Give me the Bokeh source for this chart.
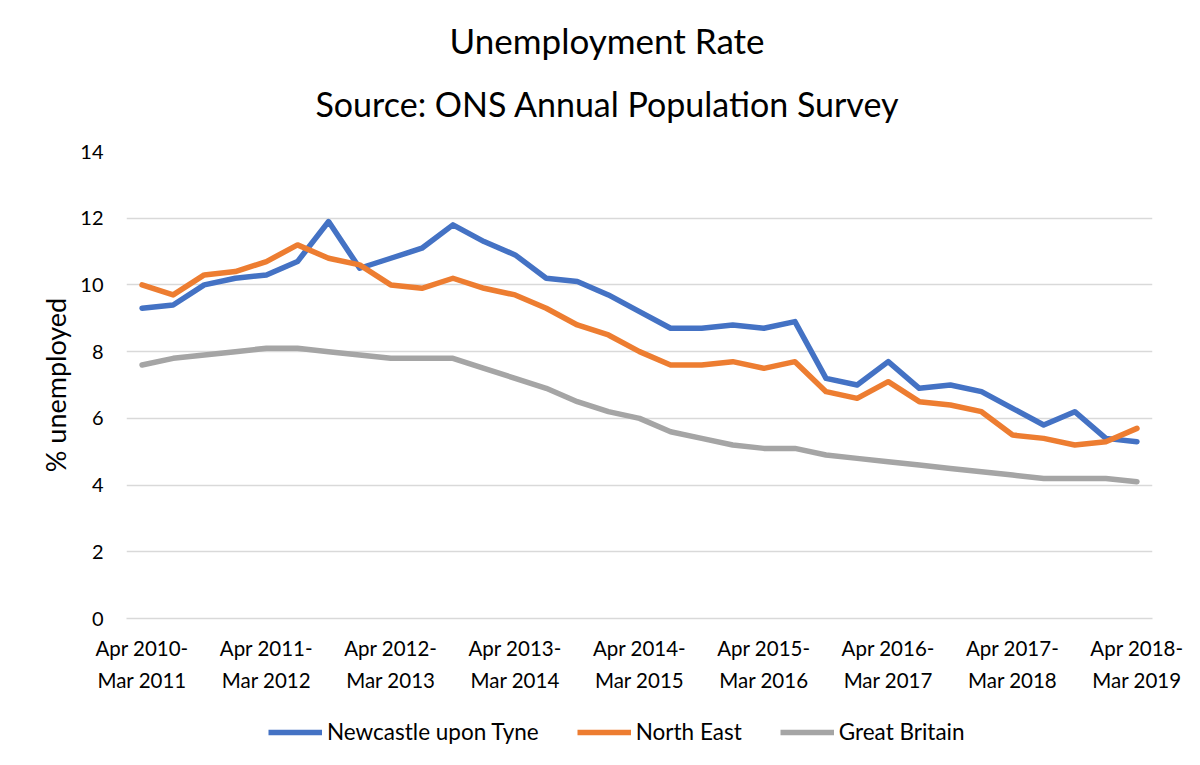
from bokeh.plotting import figure
from bokeh.layouts import column
from bokeh.models import FixedTicker, Legend, LegendItem, Range1d, Title
from bokeh.embed import file_html
from bokeh.resources import INLINE

tick_labels = ["Apr 2010-\nMar 2011", "Apr 2011-\nMar 2012", "Apr 2012-\nMar 2013",
               "Apr 2013-\nMar 2014", "Apr 2014-\nMar 2015", "Apr 2015-\nMar 2016",
               "Apr 2016-\nMar 2017", "Apr 2017-\nMar 2018", "Apr 2018-\nMar 2019"]

newcastle = [9.3, 9.4, 10.0, 10.2, 10.3, 10.7, 11.9, 10.5, 10.8, 11.1, 11.8,
             11.3, 10.9, 10.2, 10.1, 9.7, 9.2, 8.7, 8.7, 8.8, 8.7, 8.9,
             7.2, 7.0, 7.7, 6.9, 7.0, 6.8, 6.3, 5.8, 6.2, 5.4, 5.3]
north_east = [10.0, 9.7, 10.3, 10.4, 10.7, 11.2, 10.8, 10.6, 10.0, 9.9, 10.2,
              9.9, 9.7, 9.3, 8.8, 8.5, 8.0, 7.6, 7.6, 7.7, 7.5, 7.7,
              6.8, 6.6, 7.1, 6.5, 6.4, 6.2, 5.5, 5.4, 5.2, 5.3, 5.7]
great_britain = [7.6, 7.8, 7.9, 8.0, 8.1, 8.1, 8.0, 7.9, 7.8, 7.8, 7.8,
                 7.5, 7.2, 6.9, 6.5, 6.2, 6.0, 5.6, 5.4, 5.2, 5.1, 5.1,
                 4.9, 4.8, 4.7, 4.6, 4.5, 4.4, 4.3, 4.2, 4.2, 4.2, 4.1]
series_names = ["Newcastle upon Tyne", "North East", "Great Britain"]
colors = ["#4472C4", "#ED7D31", "#A5A5A5"]

FONT = "Lato"
x = list(range(len(newcastle)))
all_series = [newcastle, north_east, great_britain]

p = figure(width=1184, height=715, output_backend="svg", toolbar_location=None,
           x_range=Range1d(-0.5, len(x) - 0.5), y_range=Range1d(0, 14),
           min_border_left=126, min_border_right=32, min_border_top=151,
           min_border_bottom=97, title=None)
p.outline_line_color = None
p.background_fill_color = "white"
p.border_fill_color = "white"

p.xgrid.visible = False
p.ygrid.grid_line_color = "#D9D9D9"
p.ygrid.grid_line_width = 1.5

p.yaxis.ticker = FixedTicker(ticks=list(range(0, 15, 2)))
p.yaxis.axis_line_color = None
p.yaxis.major_tick_line_color = None
p.yaxis.minor_tick_line_color = None
p.yaxis.major_label_text_font = FONT
p.yaxis.major_label_text_font_size = "20px"
p.yaxis.major_label_text_color = "#000000"
p.yaxis.major_label_standoff = 17
p.yaxis.axis_label = "% unemployed"
p.yaxis.axis_label_text_font = FONT
p.yaxis.axis_label_text_font_size = "27px"
p.yaxis.axis_label_text_font_style = "normal"
p.yaxis.axis_label_text_color = "#000000"
p.yaxis.axis_label_standoff = 5

ticks = list(range(0, len(x), 4))
p.xaxis.ticker = FixedTicker(ticks=ticks)
p.xaxis.major_label_overrides = {t: lab for t, lab in zip(ticks, tick_labels)}
p.xaxis.axis_line_color = "#D9D9D9"
p.xaxis.axis_line_width = 1.5
p.xaxis.major_tick_line_color = None
p.xaxis.minor_tick_line_color = None
p.xaxis.major_label_text_font = FONT
p.xaxis.major_label_text_font_size = "20.5px"
p.xaxis.major_label_text_color = "#000000"
p.xaxis.major_label_text_line_height = 1.37
p.xaxis.major_label_standoff = 11

for ys, c in zip(all_series, colors):
    p.line(x, ys, line_color=c, line_width=5.5, line_join="round", line_cap="round")

p.add_layout(Title(text="Source: ONS Annual Population Survey", align="left",
                   text_font=FONT, text_font_size="34px", text_font_style="normal",
                   text_color="#000000", standoff=56, offset=189), "above")
p.add_layout(Title(text="Unemployment Rate", align="left",
                   text_font=FONT, text_font_size="35px", text_font_style="normal",
                   text_color="#000000", standoff=-17, offset=323), "above")

# legend strip below the chart (frames are aligned by the column layout)
p2 = figure(width=1184, height=50, output_backend="svg", toolbar_location=None,
            x_axis_location=None, y_axis_location=None, min_border=0,
            x_range=Range1d(-0.5, len(x) - 0.5), y_range=Range1d(100, 101))
p2.outline_line_color = None
p2.grid.visible = False
p2.background_fill_color = "white"
p2.border_fill_color = "white"

proxies = [p2.line(x, ys, line_color=c, line_width=5.5) for ys, c in zip(all_series, colors)]
legend = Legend(items=[LegendItem(label=n, renderers=[r]) for n, r in zip(series_names, proxies)],
                orientation="horizontal", location=(142, 20),
                border_line_color=None, background_fill_alpha=0,
                label_text_font=FONT, label_text_font_size="22.5px",
                label_text_color="#000000",
                glyph_width=54, glyph_height=24, label_standoff=5, spacing=38,
                margin=0, padding=0)
p2.add_layout(legend, "center")

layout = column(p, p2, spacing=0)
open("out.html", "w").write(file_html(layout, INLINE))
